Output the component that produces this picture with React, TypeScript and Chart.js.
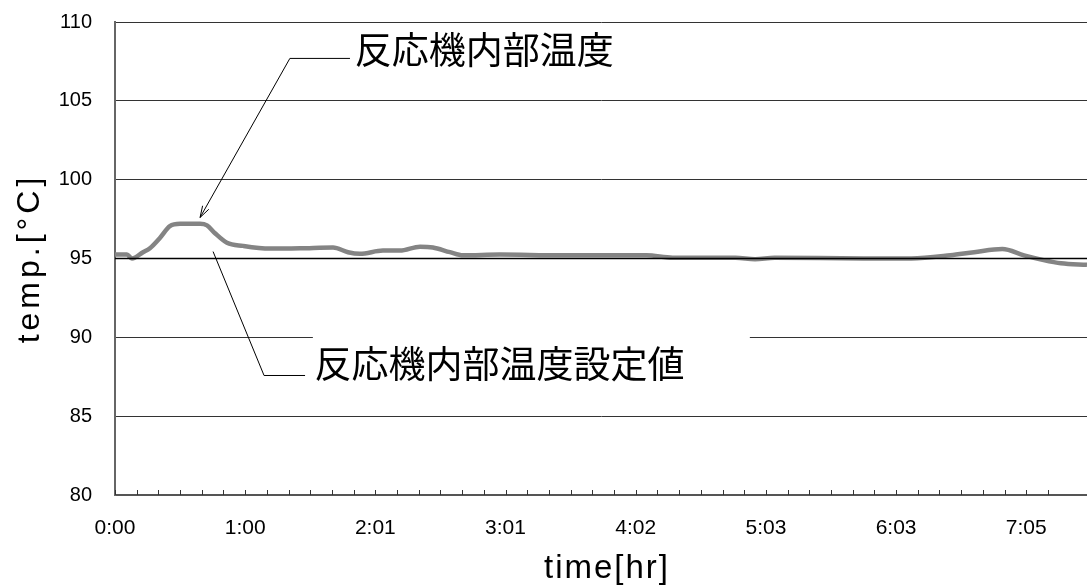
import React, { useEffect, useRef } from "react";
import { Chart, registerables } from "chart.js";

Chart.register(...registerables);

// x positions in sample-interval units (one minor tick = one unit)
const sampleIdx = [0, 0.55, 0.78, 1.29, 1.61, 2.07, 2.53, 3.0, 3.92, 4.24, 4.61, 5.16, 5.9, 7.14, 8.53, 10.05, 10.74, 11.29, 12.35, 13.13, 14.06, 14.65, 15.44, 16.04, 17.74, 20.5, 24.5, 25.7, 28.6, 29.5, 30.4, 34.5, 36.7, 38.5, 39.6, 40.9, 41.9, 42.8, 43.6, 44.8];
const reactorTemp = [95.25, 95.25, 95.0, 95.4, 95.65, 96.3, 97.05, 97.2, 97.2, 97.1, 96.6, 96.0, 95.8, 95.63, 95.65, 95.7, 95.4, 95.3, 95.5, 95.5, 95.75, 95.7, 95.4, 95.2, 95.25, 95.2, 95.2, 95.05, 95.05, 94.95, 95.05, 95.0, 95.0, 95.2, 95.4, 95.6, 95.2, 94.9, 94.7, 94.6];

const setIdx = [0, 44.8];
const setTemp = [95, 95];

const timeLabels = ["0:00", "1:00", "2:01", "3:01", "4:02", "5:03", "6:03", "7:05"];
const ticksPerLabel = 6;
const xMax = 44.8;
const yMin = 80;
const yMax = 110;
const yStep = 5;

const label1 = "反応機内部温度";
const label2 = "反応機内部温度設定値";
const yTitle = "temp.[°C]";
const xTitle = "time[hr]";

const annotationPlugin = {
  id: "annots",
  afterDraw(chart: any) {
    const { ctx, chartArea } = chart;
    const xs = chart.scales.x;
    const ys = chart.scales.y;
    const px = (v: number) => xs.getPixelForValue(v);
    const py = (v: number) => ys.getPixelForValue(v);

    ctx.save();
    // inward minor ticks on x axis
    ctx.strokeStyle = "#333";
    ctx.lineWidth = 1;
    xs.ticks.forEach((t: any) => {
      const x = Math.round(px(t.value)) + 0.5;
      ctx.beginPath();
      ctx.moveTo(x, chartArea.bottom);
      ctx.lineTo(x, chartArea.bottom - 5);
      ctx.stroke();
    });

    // white box behind label 2 (covers gridline)
    ctx.fillStyle = "#fff";
    const bx0 = px(9.12), bx1 = px(29.26);
    const by0 = py(90.12), by1 = py(86.6);
    ctx.fillRect(bx0, by0, bx1 - bx0, by1 - by0);

    // leader 1 with arrow
    ctx.strokeStyle = "#000";
    ctx.lineWidth = 1;
    const a0 = [px(10.83), py(107.69)];
    const a1 = [px(8.06), py(107.69)];
    const a2 = [px(3.92), py(97.6)];
    ctx.beginPath();
    ctx.moveTo(a0[0], a0[1]);
    ctx.lineTo(a1[0], a1[1]);
    ctx.lineTo(a2[0], a2[1]);
    ctx.stroke();
    const ang = Math.atan2(a2[1] - a1[1], a2[0] - a1[0]);
    const ah = 12;
    ctx.beginPath();
    ctx.moveTo(a2[0] - ah * Math.cos(ang - 0.3), a2[1] - ah * Math.sin(ang - 0.3));
    ctx.lineTo(a2[0], a2[1]);
    ctx.lineTo(a2[0] - ah * Math.cos(ang + 0.3), a2[1] - ah * Math.sin(ang + 0.3));
    ctx.stroke();

    // leader 2
    ctx.beginPath();
    ctx.moveTo(px(8.76), py(87.58));
    ctx.lineTo(px(6.87), py(87.58));
    ctx.lineTo(px(4.52), py(95.44));
    ctx.stroke();

    // labels
    ctx.fillStyle = "#000";
    ctx.font = '37px "Noto Sans CJK JP"';
    ctx.textAlign = "left";
    ctx.textBaseline = "middle";
    ctx.fillText(label1, px(11.05), py(108.2));
    ctx.fillText(label2, px(9.2), py(88.3));

    // axis titles
    ctx.font = '32px "Liberation Sans"';
    (ctx as any).letterSpacing = "4px";
    ctx.textAlign = "center";
    ctx.textBaseline = "middle";
    ctx.save();
    ctx.translate(30, (chartArea.top + chartArea.bottom) / 2);
    ctx.rotate(-Math.PI / 2);
    ctx.fillText(yTitle, 0, 0);
    ctx.restore();
    ctx.font = '33px "Liberation Sans"';
    (ctx as any).letterSpacing = "2px";
    ctx.fillText(xTitle, (chartArea.left + chartArea.right) / 2 + 6, 569);
    ctx.restore();
  },
};

export default function App() {
  const ref = useRef<HTMLCanvasElement | null>(null);

  useEffect(() => {
    if (!ref.current) return;
    const chart = new Chart(ref.current, {
      type: "line",
      data: {
        datasets: [
          {
            label: "設定値",
            data: setIdx.map((x, i) => ({ x, y: setTemp[i] })),
            borderColor: "#000",
            borderWidth: 1.5,
            pointRadius: 0,
            order: 0,
          },
          {
            label: label1,
            data: sampleIdx.map((x, i) => ({ x, y: reactorTemp[i] })),
            borderColor: "#848484",
            borderWidth: 4.5,
            pointRadius: 0,
            cubicInterpolationMode: "monotone",
            order: 1,
          },
        ],
      },
      options: {
        animation: false,
        responsive: false,
        maintainAspectRatio: false,
        layout: { padding: { top: 22, right: 0, bottom: 0, left: 0 } },
        plugins: { legend: { display: false }, tooltip: { enabled: false } },
        scales: {
          x: {
            type: "linear",
            min: 0,
            max: xMax,
            afterFit: (s: any) => {
              s.height = 90;
              s.paddingLeft = 0;
              s.paddingRight = 0;
              s.paddingTop = 0;
              s.paddingBottom = 0;
            },
            grid: { display: true, drawOnChartArea: false, drawTicks: false },
            border: { display: true, color: "#555", width: 2 },
            ticks: {
              stepSize: 1,
              autoSkip: false,
              maxRotation: 0,
              padding: 21,
              color: "#000",
              font: { family: '"Liberation Sans"', size: 21 },
              callback: (v: any) => {
                const n = Math.round(Number(v));
                if (Math.abs(Number(v) - n) > 1e-6) return "";
                return n % ticksPerLabel === 0 ? timeLabels[n / ticksPerLabel] ?? "" : "";
              },
            },
          },
          y: {
            min: yMin,
            max: yMax,
            afterFit: (s: any) => {
              s.width = 115;
              s.paddingLeft = 0;
              s.paddingRight = 0;
              s.paddingTop = 0;
              s.paddingBottom = 0;
            },
            grid: { color: "#333", lineWidth: 1, drawTicks: false },
            border: { display: true, color: "#666", width: 2 },
            ticks: {
              stepSize: yStep,
              padding: 23,
              color: "#000",
              font: { family: '"Liberation Sans"', size: 20 },
            },
          },
        },
      },
      plugins: [annotationPlugin],
    });
    return () => chart.destroy();
  }, []);

  return (
    <div style={{ position: "fixed", left: 0, top: 0, width: 1087, height: 585, background: "#fff" }}>
      <canvas ref={ref} width={1087} height={585} />
    </div>
  );
}
